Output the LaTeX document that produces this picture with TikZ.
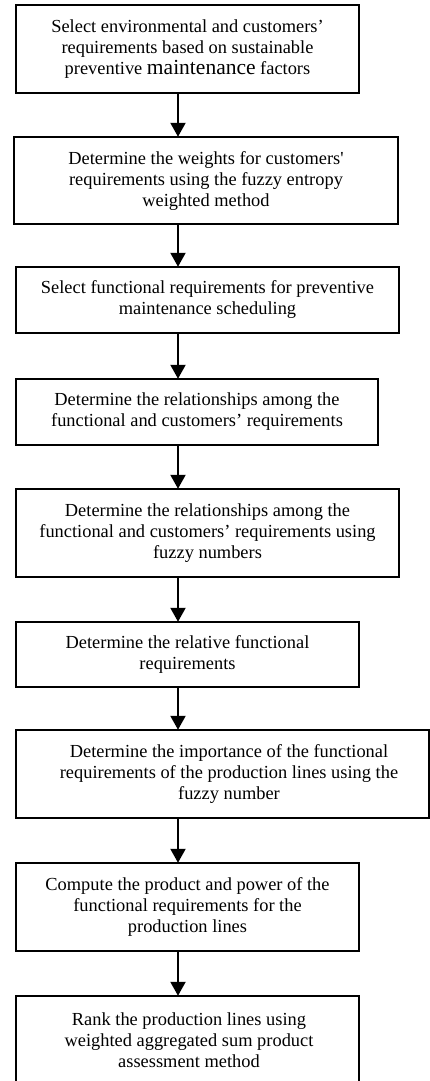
\documentclass[tikz,border=0pt]{standalone}
\usepackage{fontspec}
\setmainfont{Liberation Serif}
\usetikzlibrary{arrows.meta}
\tikzset{
  stepbox/.style={draw=black, line width=1.5pt, rectangle, inner sep=0pt},
  txt/.style={align=center, inner sep=0pt, font=\fontsize{18.4}{21}\selectfont},
  arr/.style={line width=2.2pt, -{Triangle[width=15pt,length=14pt]}, shorten >=-0.5pt}
}
\newcommand{\largeword}[1]{{\fontsize{21.5}{21}\selectfont #1}}
\begin{document}
\begin{tikzpicture}[x=1pt,y=-1pt]
\useasboundingbox (0,0) rectangle (430,1081);
\clip (0,0) rectangle (430,1081);
\fill[white] (0,0) rectangle (430,1081);
\coordinate (ax) at (178,0);

% boxes
\node[stepbox, minimum width=343pt, minimum height=88pt] (b1) at (187.5,49) {};
\node[stepbox, minimum width=384pt, minimum height=87pt] (b2) at (206,180.5) {};
\node[stepbox, minimum width=383pt, minimum height=66pt] (b3) at (207.5,300) {};
\node[stepbox, minimum width=362pt, minimum height=66pt] (b4) at (197,412) {};
\node[stepbox, minimum width=383pt, minimum height=88pt] (b5) at (207.5,533) {};
\node[stepbox, minimum width=343pt, minimum height=65pt] (b6) at (187.5,654.5) {};
\node[stepbox, minimum width=413pt, minimum height=88pt] (b7) at (222.5,774) {};
\node[stepbox, minimum width=343pt, minimum height=88pt] (b8) at (187.5,907) {};
\node[stepbox, minimum width=343pt, minimum height=110pt] (b9) at (187.5,1051) {};

% texts
\node[txt] (t1) at (187.5,49) {Select environmental and customers’\\requirements based on sustainable\\preventive \largeword{maintenance} factors};
\node[txt] (t2) at (206,181) {Determine the weights for customers\textquotesingle\\requirements using the fuzzy entropy\\weighted method};
\node[txt] (t3) at (207.5,300) {Select functional requirements for preventive\\maintenance scheduling};
\node[txt] (t4) at (197,412) {Determine the relationships among the\\functional and customers’ requirements};
\node[txt] (t5) at (207.5,533) {Determine the relationships among the\\functional and customers’ requirements using\\fuzzy numbers};
\node[txt] (t6) at (187.5,654.5) {Determine the relative functional\\requirements};
\node[txt] (t7) at (229,774) {Determine the importance of the functional\\requirements of the production lines using the\\fuzzy number};
\node[txt] (t8) at (187.5,907) {Compute the product and power of the\\functional requirements for the\\production lines};
\node[txt] (t9) at (189,1040) {Rank the production lines using\\weighted aggregated sum product\\assessment method};

% arrows
\draw[arr] (b1.south -| ax) -- (b2.north -| ax);
\draw[arr] (b2.south -| ax) -- (b3.north -| ax);
\draw[arr] (b3.south -| ax) -- (b4.north -| ax);
\draw[arr] (b4.south -| ax) -- (b5.north -| ax);
\draw[arr] (b5.south -| ax) -- (b6.north -| ax);
\draw[arr] (b6.south -| ax) -- (b7.north -| ax);
\draw[arr] (b7.south -| ax) -- (b8.north -| ax);
\draw[arr] (b8.south -| ax) -- (b9.north -| ax);
\end{tikzpicture}
\end{document}
